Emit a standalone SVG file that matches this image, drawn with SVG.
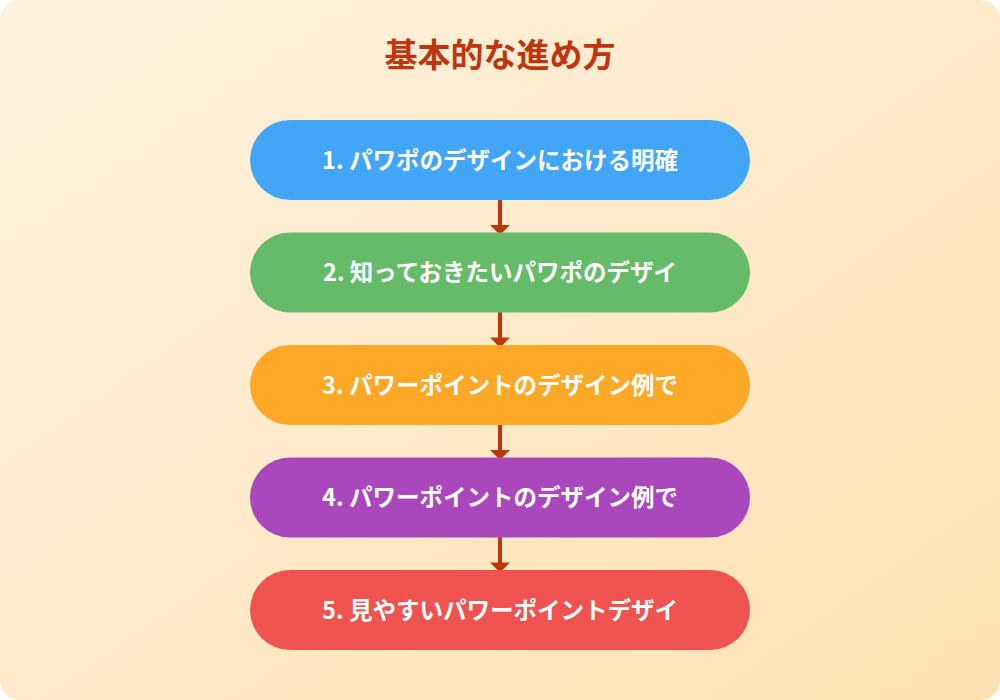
<svg xmlns="http://www.w3.org/2000/svg" width="1000" height="700" viewBox="0 0 1000 700">
<defs>
<linearGradient id="bg" x1="0" y1="0" x2="1" y2="1">
<stop offset="0" stop-color="#FFF3E0"/>
<stop offset="1" stop-color="#FFE0B2"/>
</linearGradient>
<style>
.title{font-family:"Noto Sans CJK JP",sans-serif;font-weight:bold;font-size:33px;fill:#BF360C;text-anchor:middle}
.lbl{font-family:"Noto Sans CJK JP",sans-serif;font-weight:bold;font-size:23.5px;fill:#FFFFFF;text-anchor:middle}
.conn{stroke:#BF360C;stroke-width:4;fill:none}
.ahd{fill:#BF360C}
</style>
</defs>
<rect x="0" y="0" width="1000" height="700" rx="20" fill="url(#bg)"/>
<text class="title" x="500" y="67">基本的な進め方</text>
<g id="connectors">
<line class="conn" x1="500" y1="200" x2="500" y2="228"/>
<path class="ahd" d="M490,225 L510,225 L500,235 Z"/>
<line class="conn" x1="500" y1="312" x2="500" y2="340"/>
<path class="ahd" d="M490,337.5 L510,337.5 L500,347.5 Z"/>
<line class="conn" x1="500" y1="425" x2="500" y2="453"/>
<path class="ahd" d="M490,450 L510,450 L500,460 Z"/>
<line class="conn" x1="500" y1="537" x2="500" y2="565"/>
<path class="ahd" d="M490,562.5 L510,562.5 L500,572.5 Z"/>
</g>
<g id="node1">
<rect x="250" y="120" width="500" height="80" rx="40" fill="#42A5F5"/>
<text class="lbl" x="500" y="168.5">1. パワポのデザインにおける明確</text>
</g>
<g id="node2">
<rect x="250" y="232.5" width="500" height="80" rx="40" fill="#66BB6A"/>
<text class="lbl" x="500" y="281">2. 知っておきたいパワポのデザイ</text>
</g>
<g id="node3">
<rect x="250" y="345" width="500" height="80" rx="40" fill="#FFA726"/>
<text class="lbl" x="500" y="393.5">3. パワーポイントのデザイン例で</text>
</g>
<g id="node4">
<rect x="250" y="457.5" width="500" height="80" rx="40" fill="#AB47BC"/>
<text class="lbl" x="500" y="506">4. パワーポイントのデザイン例で</text>
</g>
<g id="node5">
<rect x="250" y="570" width="500" height="80" rx="40" fill="#EF5350"/>
<text class="lbl" x="500" y="618.5">5. 見やすいパワーポイントデザイ</text>
</g>
</svg>
